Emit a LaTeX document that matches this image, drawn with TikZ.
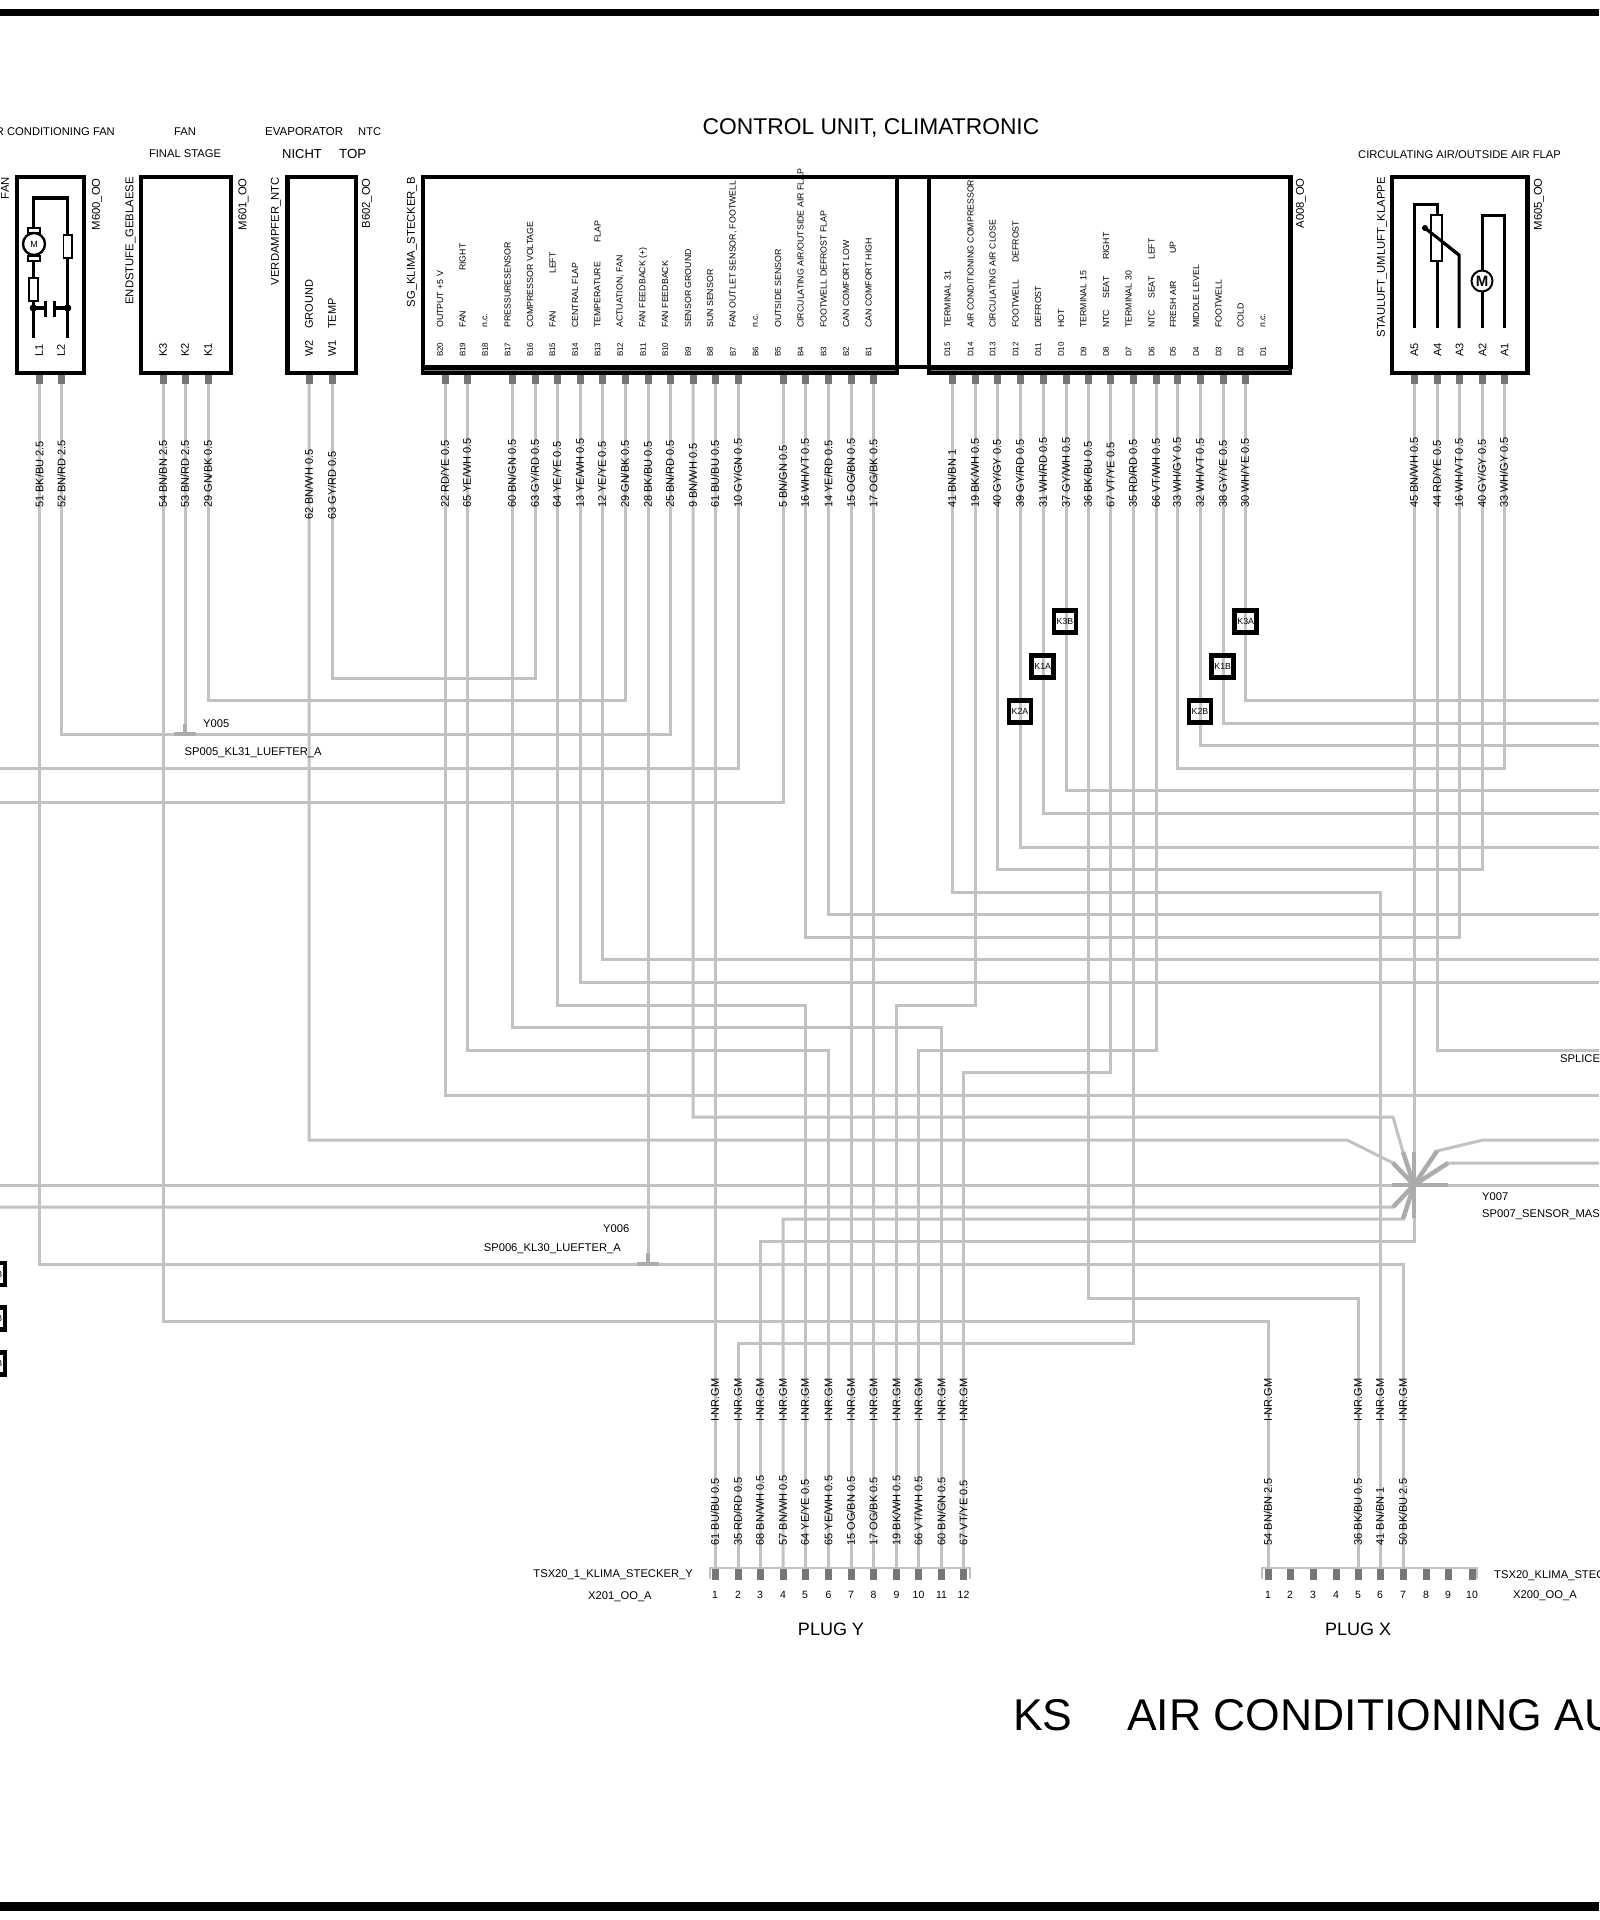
\documentclass[tikz,border=0pt]{standalone}
\usepackage{fontspec}
\setmainfont{Liberation Sans}
\usetikzlibrary{positioning}

\definecolor{wiregray}{RGB}{194,194,194}
\definecolor{stubgray}{RGB}{118,118,118}
\definecolor{spidergray}{RGB}{172,172,172}

\tikzset{
	wire/.style={draw=wiregray, line width=3pt},
	spider/.style={draw=spidergray, line width=4.5pt},
	pin/.style={fill=stubgray, minimum width=7pt, minimum height=11pt, inner sep=0pt, outer sep=0pt},
	unitbox/.style={draw=black, line width=4.2pt},
	relay/.style={draw=black, line width=4.5pt, minimum size=22pt, inner sep=0pt, font=\fontsize{8.8}{9}\selectfont},
	wirelabel/.style={rotate=90, anchor=west, inner sep=0pt, font=\fontsize{11}{11}\selectfont},
	desc/.style={rotate=90, anchor=west, inner sep=0pt, font=\fontsize{8.8}{9}\selectfont},
	pinname/.style={rotate=90, anchor=west, inner sep=0pt, font=\fontsize{8}{8}\selectfont},
	bigpin/.style={rotate=90, anchor=west, inner sep=0pt, font=\fontsize{11}{11}\selectfont},
	boxname/.style={rotate=90, anchor=east, inner sep=0pt, font=\fontsize{11.3}{11}\selectfont},
	header/.style={inner sep=0pt, font=\fontsize{11.2}{11}\selectfont},
	plugnum/.style={inner sep=0pt, font=\fontsize{10.5}{11}\selectfont},
	plugname/.style={inner sep=0pt, font=\fontsize{18}{18}\selectfont},
	bigtitle/.style={inner sep=0pt, font=\fontsize{44.5}{45}\selectfont}
}

\begin{document}
\begin{tikzpicture}[x=1pt, y=-1pt]
	\useasboundingbox (0,0) rectangle (1599,1920);

	% Draw the page bars
	\fill[black] (0,9) rectangle (1599,16);
	\fill[black] (0,1902) rectangle (1599,1911);

	% Draw the pins of the components
	\node[pin] (L1) at (39.5,378.5) {};
	\node[pin] (L2) at (61.5,378.5) {};
	\node[pin] (K3) at (163,378.5) {};
	\node[pin] (K2) at (185,378.5) {};
	\node[pin] (K1) at (208,378.5) {};
	\node[pin] (W2) at (309,378.5) {};
	\node[pin] (W1) at (332,378.5) {};

	\node[pin] (B20) at (445,378.5) {};
	\node[pin] (B19) at (467,378.5) {};
	\node[pin] (B17) at (512,378.5) {};
	\node[pin] (B16) at (535,378.5) {};
	\node[pin] (B15) at (557,378.5) {};
	\node[pin] (B14) at (580,378.5) {};
	\node[pin] (B13) at (602,378.5) {};
	\node[pin] (B12) at (625,378.5) {};
	\node[pin] (B11) at (648,378.5) {};
	\node[pin] (B10) at (670,378.5) {};
	\node[pin] (B9) at (693,378.5) {};
	\node[pin] (B8) at (715,378.5) {};
	\node[pin] (B7) at (738,378.5) {};
	\node[pin] (B5) at (783,378.5) {};
	\node[pin] (B4) at (805,378.5) {};
	\node[pin] (B3) at (828.5,378.5) {};
	\node[pin] (B2) at (851,378.5) {};
	\node[pin] (B1) at (873.5,378.5) {};

	\node[pin] (D15) at (952,378.5) {};
	\node[pin] (D14) at (975,378.5) {};
	\node[pin] (D13) at (997,378.5) {};
	\node[pin] (D12) at (1020,378.5) {};
	\node[pin] (D11) at (1043,378.5) {};
	\node[pin] (D10) at (1066,378.5) {};
	\node[pin] (D9) at (1088,378.5) {};
	\node[pin] (D8) at (1110.5,378.5) {};
	\node[pin] (D7) at (1133,378.5) {};
	\node[pin] (D6) at (1156,378.5) {};
	\node[pin] (D5) at (1177,378.5) {};
	\node[pin] (D4) at (1200,378.5) {};
	\node[pin] (D3) at (1223,378.5) {};
	\node[pin] (D2) at (1245,378.5) {};

	\node[pin] (A5) at (1414,378.5) {};
	\node[pin] (A4) at (1437,378.5) {};
	\node[pin] (A3) at (1459,378.5) {};
	\node[pin] (A2) at (1482,378.5) {};
	\node[pin] (A1) at (1504,378.5) {};

	% Draw the plugs
	\draw[wiregray, line width=1.5pt] (710,1579) -- (710,1568) -- (970,1568) -- (970,1579);
	\draw[wiregray, line width=1.5pt] (1262,1579) -- (1262,1568) -- (1477,1568) -- (1477,1579);

	\node[pin] (Y1) at (715,1574) {};
	\node[pin] (Y2) at (738,1574) {};
	\node[pin] (Y3) at (760,1574) {};
	\node[pin] (Y4) at (783,1574) {};
	\node[pin] (Y5) at (805,1574) {};
	\node[pin] (Y6) at (828.5,1574) {};
	\node[pin] (Y7) at (851,1574) {};
	\node[pin] (Y8) at (873.5,1574) {};
	\node[pin] (Y9) at (896.5,1574) {};
	\node[pin] (Y10) at (918.5,1574) {};
	\node[pin] (Y11) at (941.5,1574) {};
	\node[pin] (Y12) at (963.5,1574) {};

	\node[pin] (X1) at (1268,1574) {};
	\node[pin] (X2) at (1290,1574) {};
	\node[pin] (X3) at (1313,1574) {};
	\node[pin] (X4) at (1336,1574) {};
	\node[pin] (X5) at (1358,1574) {};
	\node[pin] (X6) at (1380,1574) {};
	\node[pin] (X7) at (1403,1574) {};
	\node[pin] (X8) at (1426,1574) {};
	\node[pin] (X9) at (1448,1574) {};
	\node[pin] (X10) at (1472,1574) {};

	% Free ends and splices
	\coordinate (Y005) at (185,734);
	\coordinate (Y006) at (648,1264);
	\coordinate (Y007) at (1414,1185);

	\coordinate (eB20) at (1599,1095);
	\coordinate (eB14) at (1599,982);
	\coordinate (eB13) at (1599,959);
	\coordinate (eB3) at (1599,914);
	\coordinate (eD12) at (1599,847);
	\coordinate (eD11) at (1599,813);
	\coordinate (eD10) at (1599,790);
	\coordinate (eD4) at (1599,745);
	\coordinate (eD3) at (1599,723);
	\coordinate (eD2) at (1599,700);
	\coordinate (eA4) at (1599,1050);
	\coordinate (wB7) at (0,768);
	\coordinate (wB5) at (0,802);

	\coordinate (w1185) at (0,1185);
	\coordinate (e1185) at (1599,1185);
	\coordinate (w1207) at (0,1207);
	\coordinate (k1207) at (1393,1207);
	\coordinate (k1219) at (1403,1219);
	\coordinate (k1117) at (1393,1117);
	\coordinate (j1117) at (1403,1152);
	\coordinate (k1140) at (1347,1140);
	\coordinate (j1140) at (1393,1163);
	\coordinate (e1140) at (1599,1140);
	\coordinate (k1140r) at (1483,1140);
	\coordinate (j1140r) at (1437,1151);
	\coordinate (e1163) at (1599,1163);
	\coordinate (j1163r) at (1448,1163);

	% Draw the wires
	\draw[wire] (L1) |- (X7 |- 0,1264) -- (X7);
	\draw[wire] (L2) |- (B10 |- 0,734) -- (B10);
	\draw[wire] (K3) |- (X1 |- 0,1321) -- (X1);
	\draw[wire] (K2) -- (Y005);
	\draw[wire] (K1) |- (B12 |- 0,700) -- (B12);
	\draw[wire] (W2) |- (k1140) -- (j1140) -- (Y007);
	\draw[wire] (W1) |- (B16 |- 0,678) -- (B16);

	\draw[wire] (B20) |- (eB20);
	\draw[wire] (B19) |- (Y6 |- 0,1050) -- (Y6);
	\draw[wire] (B17) |- (Y11 |- 0,1027) -- (Y11);
	\draw[wire] (B15) |- (Y5 |- 0,1005) -- (Y5);
	\draw[wire] (B14) |- (eB14);
	\draw[wire] (B13) |- (eB13);
	\draw[wire] (B11) -- (Y006);
	\draw[wire] (B9) |- (k1117) -- (j1117) -- (Y007);
	\draw[wire] (B8) -- (Y1);
	\draw[wire] (B7) |- (wB7);
	\draw[wire] (B5) |- (wB5);
	\draw[wire] (B4) |- (A3 |- 0,937) -- (A3);
	\draw[wire] (B3) |- (eB3);
	\draw[wire] (B2) -- (Y7);
	\draw[wire] (B1) -- (Y8);

	\draw[wire] (D15) |- (X6 |- 0,892) -- (X6);
	\draw[wire] (D14) |- (Y9 |- 0,1005) -- (Y9);
	\draw[wire] (D13) |- (A2 |- 0,869) -- (A2);
	\draw[wire] (D12) |- (eD12);
	\draw[wire] (D11) |- (eD11);
	\draw[wire] (D10) |- (eD10);
	\draw[wire] (D9) |- (X5 |- 0,1298) -- (X5);
	\draw[wire] (D8) |- (Y12 |- 0,1072) -- (Y12);
	\draw[wire] (D7) |- (Y2 |- 0,1343) -- (Y2);
	\draw[wire] (D6) |- (Y10 |- 0,1050) -- (Y10);
	\draw[wire] (D5) |- (A1 |- 0,768) -- (A1);
	\draw[wire] (D4) |- (eD4);
	\draw[wire] (D3) |- (eD3);
	\draw[wire] (D2) |- (eD2);

	\draw[wire] (A5) |- (Y3 |- 0,1241) -- (Y3);
	\draw[wire] (A4) |- (eA4);
	\draw[wire] (Y4) |- (k1219) -- (Y007);

	\draw[wire] (w1185) -- (e1185);
	\draw[wire] (w1207) -- (k1207) -- (Y007);
	\draw[wire] (e1140) -- (k1140r) -- (j1140r) -- (Y007);
	\draw[wire] (e1163) -- (j1163r) -- (Y007);

	% Draw the splices
	\draw[spider] (Y005) ++(-11,0) -- ++(22,0);
	\draw[spider] (Y005) -- ++(0,-10);
	\draw[spider] (Y006) ++(-11,0) -- ++(22,0);
	\draw[spider] (Y006) -- ++(0,-11);

	\draw[spider] (Y007) -- (j1117);
	\draw[spider] (Y007) -- (j1140);
	\draw[spider] (Y007) -- (k1207);
	\draw[spider] (Y007) -- (k1219);
	\draw[spider] (Y007) -- (j1140r);
	\draw[spider] (Y007) -- (j1163r);
	\draw[spider] (Y007) ++(-22,0) -- ++(56,0);
	\draw[spider] (Y007) ++(0,-33) -- ++(0,66);

	% Draw the component boxes
	\draw[unitbox] (16.7,176.7) rectangle (84.2,373.3);
	\draw[unitbox] (140.7,176.7) rectangle (230.6,373.3);
	\draw[unitbox] (287.4,176.7) rectangle (355.6,373.3);
	\draw[unitbox] (1392,176.7) rectangle (1527.5,373.3);

	% Draw the control unit
	\draw[unitbox] (422.7,176.7) rectangle (896.7,367);
	\draw[unitbox] (929,176.7) rectangle (1290.4,367);
	\fill[black] (420.7,366) rectangle (898.7,375);
	\fill[black] (927.2,366) rectangle (1292.2,375);
	\draw[stubgray, line width=1pt] (424,370.5) -- (895,370.5);
	\draw[stubgray, line width=1pt] (931,370.5) -- (1289,370.5);
	\draw[unitbox] (896.7,176.7) -- (929,176.7);
	\draw[unitbox] (896.7,367) -- (929,367);

	% Draw the fan inside the box
	\draw[black, line width=3.5pt] (33.3,338) -- (33.3,198) -- (67.7,198) -- (67.7,338);
	\draw[black, line width=3.5pt] (33.3,308) -- (45.7,308);
	\draw[black, line width=3.5pt] (54.3,308) -- (67.7,308);
	\draw[black, line width=2.8pt] (45.7,300.7) -- (45.7,317);
	\draw[black, line width=2.8pt] (54.3,300.7) -- (54.3,317);
	\fill[black] (33.3,308) circle (3.6);
	\fill[black] (67.7,308) circle (3.6);
	\draw[black, line width=1.8pt, fill=white] (28,228) rectangle (40,233);
	\draw[black, line width=1.8pt, fill=white] (28,256) rectangle (40,261);
	\node[draw=black, circle, line width=2.4pt, fill=white, minimum size=22pt, inner sep=0pt, font=\fontsize{9}{9}\selectfont] (motorfan) at (34,244) {M};
	\draw[black, line width=1.6pt, fill=white] (63.3,235) rectangle (72,258);
	\draw[black, line width=1.6pt, fill=white] (29,278) rectangle (37.7,300.7);

	% Draw the flap inside the box
	\draw[black, line width=3pt] (1414,328) -- (1414,204) -- (1437,204) -- (1437,328);
	\draw[black, line width=3pt] (1459,328) -- (1459,255) -- (1425,228);
	\draw[black, line width=3pt] (1482,328) -- (1482,215) -- (1504,215) -- (1504,328);
	\draw[black, line width=1.6pt, fill=white] (1431,215) rectangle (1442,261);
	\draw[black, line width=3pt] (1459,255) -- (1425,228);
	\fill[black] (1425,228) circle (3);
	\node[draw=black, circle, line width=2pt, fill=white, minimum size=21pt, inner sep=0pt, font=\bfseries\fontsize{15}{15}\selectfont] (motorflap) at (1482,281) {M};

	% Draw the relays
	\node[relay] (K3B) at (1065,621.7) {K3B};
	\node[relay] (K1A) at (1042.7,666.7) {K1A};
	\node[relay] (K2A) at (1020,711.7) {K2A};
	\node[relay] (K3A) at (1245.7,621.7) {K3A};
	\node[relay] (K1B) at (1222.7,666.7) {K1B};
	\node[relay] (K2B) at (1200,711.7) {K2B};
	\node[relay] (edge1) at (-6,1274) {\phantom{K3}B};
	\node[relay] (edge2) at (-6,1318.5) {\phantom{K1}B};
	\node[relay] (edge3) at (-6,1363.5) {\phantom{K2}B};

	% Titles
	\node[anchor=east, header] (tfan) at (115,132) {R CONDITIONING FAN};
	\node[header] (tfinal) at (185,132) {FAN};
	\node[header] (tfinalb) at (185,154) {FINAL STAGE};
	\node[anchor=west, inner sep=0pt, font=\fontsize{11.5}{12}\selectfont] (tevap) at (265,132) {EVAPORATOR};
	\node[anchor=west, header] (tntc) at (358,132) {NTC};
	\node[anchor=west, inner sep=0pt, font=\fontsize{13}{13}\selectfont] (tnicht) at (282,154) {NICHT};
	\node[anchor=west, inner sep=0pt, font=\fontsize{13.3}{13}\selectfont] (ttop) at (339,154) {TOP};
	\node[inner sep=0pt, font=\fontsize{22.8}{23}\selectfont] (tunit) at (871,128) {CONTROL UNIT, CLIMATRONIC};
	\node[header] (tflap) at (1459.5,154) {CIRCULATING AIR/OUTSIDE AIR FLAP};

	% Names of the boxes
	\node[boxname] (nfan) at (5,177) {FAN};
	\node[boxname] (nm600) at (97,178) {M600\_OO};
	\node[boxname] (nend) at (130.5,177) {ENDSTUFE\_GEBLAESE};
	\node[boxname] (nm601) at (243.5,178) {M601\_OO};
	\node[boxname] (nverd) at (276,177) {VERDAMPFER\_NTC};
	\node[boxname] (nb602) at (367,178) {B602\_OO};
	\node[boxname] (nsg) at (412,177) {SG\_KLIMA\_STECKER\_B};
	\node[boxname] (na008) at (1301,178) {A008\_OO};
	\node[boxname] (nstau) at (1382,177) {STAULUFT\_UMLUFT\_KLAPPE};
	\node[boxname] (nm605) at (1539,178) {M605\_OO};

	% Names of the pins
	\node[bigpin] (nL1) at (39,357) {L1};
	\node[bigpin] (nL2) at (61,357) {L2};
	\node[bigpin] (nK3) at (163,357) {K3};
	\node[bigpin] (nK2) at (185,357) {K2};
	\node[bigpin] (nK1) at (208,357) {K1};
	\node[bigpin] (nW2) at (309,357) {W2};
	\node[bigpin] (nW1) at (332,357) {W1};
	\node[bigpin] (dW2) at (309,329) {GROUND};
	\node[bigpin] (dW1) at (332,329) {TEMP};
	\node[bigpin] (nA5) at (1414.5,357) {A5};
	\node[bigpin] (nA4) at (1437.5,357) {A4};
	\node[bigpin] (nA3) at (1459.5,357) {A3};
	\node[bigpin] (nA2) at (1482.5,357) {A2};
	\node[bigpin] (nA1) at (1504.5,357) {A1};

	% Left half of the control unit
	\node[pinname] (nB20) at (440,357) {B20};
	\node[pinname] (nB19) at (462.5,357) {B19};
	\node[pinname] (nB18) at (485,357) {B18};
	\node[pinname] (nB17) at (507.5,357) {B17};
	\node[pinname] (nB16) at (530,357) {B16};
	\node[pinname] (nB15) at (552.5,357) {B15};
	\node[pinname] (nB14) at (575,357) {B14};
	\node[pinname] (nB13) at (597.5,357) {B13};
	\node[pinname] (nB12) at (620,357) {B12};
	\node[pinname] (nB11) at (643,357) {B11};
	\node[pinname] (nB10) at (665,357) {B10};
	\node[pinname] (nB9) at (688,357) {B9};
	\node[pinname] (nB8) at (710,357) {B8};
	\node[pinname] (nB7) at (733,357) {B7};
	\node[pinname] (nB6) at (755.5,357) {B6};
	\node[pinname] (nB5) at (778,357) {B5};
	\node[pinname] (nB4) at (800.5,357) {B4};
	\node[pinname] (nB3) at (823.5,357) {B3};
	\node[pinname] (nB2) at (846,357) {B2};
	\node[pinname] (nB1) at (868.5,357) {B1};

	\node[desc] (dB20) at (440,328) {OUTPUT +5 V};
	\node[desc] (dB19) at (462.5,328) {FAN};
	\node[desc] (dB19b) at (462.5,271) {RIGHT};
	\node[desc] (dB18) at (485,328) {n.c.};
	\node[desc] (dB17) at (507.5,328) {PRESSURESENSOR};
	\node[desc] (dB16) at (530,328) {COMPRESSOR VOLTAGE};
	\node[desc] (dB15) at (552.5,328) {FAN};
	\node[desc] (dB15b) at (552.5,274) {LEFT};
	\node[desc] (dB14) at (575,328) {CENTRAL FLAP};
	\node[desc] (dB13) at (597.5,328) {TEMPERATURE};
	\node[desc] (dB13b) at (597.5,243) {FLAP};
	\node[desc] (dB12) at (620,328) {ACTUATION, FAN};
	\node[desc] (dB11) at (643,328) {FAN FEEDBACK (+)};
	\node[desc] (dB10) at (665,328) {FAN FEEDBACK};
	\node[desc] (dB9) at (688,328) {SENSOR GROUND};
	\node[desc] (dB8) at (710,328) {SUN SENSOR};
	\node[desc] (dB7) at (733,328) {FAN OUTLET SENSOR, FOOTWELL};
	\node[desc] (dB6) at (755.5,328) {n.c.};
	\node[desc] (dB5) at (778,328) {OUTSIDE SENSOR};
	\node[desc] (dB4) at (800.5,328) {CIRCULATING AIR/OUTSIDE AIR FLAP};
	\node[desc] (dB3) at (823.5,328) {FOOTWELL DEFROST FLAP};
	\node[desc] (dB2) at (846,328) {CAN COMFORT LOW};
	\node[desc] (dB1) at (868.5,328) {CAN COMFORT HIGH};

	% Right half of the control unit
	\node[pinname] (nD15) at (947.5,357) {D15};
	\node[pinname] (nD14) at (970.5,357) {D14};
	\node[pinname] (nD13) at (992.5,357) {D13};
	\node[pinname] (nD12) at (1015.5,357) {D12};
	\node[pinname] (nD11) at (1038,357) {D11};
	\node[pinname] (nD10) at (1061,357) {D10};
	\node[pinname] (nD9) at (1083.5,357) {D9};
	\node[pinname] (nD8) at (1106,357) {D8};
	\node[pinname] (nD7) at (1128.5,357) {D7};
	\node[pinname] (nD6) at (1151.5,357) {D6};
	\node[pinname] (nD5) at (1173,357) {D5};
	\node[pinname] (nD4) at (1196,357) {D4};
	\node[pinname] (nD3) at (1218.5,357) {D3};
	\node[pinname] (nD2) at (1240.5,357) {D2};
	\node[pinname] (nD1) at (1263,357) {D1};

	\node[desc] (dD15) at (947.5,328) {TERMINAL 31};
	\node[desc] (dD14) at (970.5,328) {AIR CONDITIONING COMPRESSOR};
	\node[desc] (dD13) at (992.5,328) {CIRCULATING AIR CLOSE};
	\node[desc] (dD12) at (1015.5,328) {FOOTWELL};
	\node[desc] (dD12b) at (1015.5,263) {DEFROST};
	\node[desc] (dD11) at (1038,328) {DEFROST};
	\node[desc] (dD10) at (1061,328) {HOT};
	\node[desc] (dD9) at (1083.5,328) {TERMINAL 15};
	\node[desc] (dD8) at (1106,328) {NTC};
	\node[desc] (dD8b) at (1106,299) {SEAT};
	\node[desc] (dD8c) at (1106,260) {RIGHT};
	\node[desc] (dD7) at (1128.5,328) {TERMINAL 30};
	\node[desc] (dD6) at (1151.5,328) {NTC};
	\node[desc] (dD6b) at (1151.5,299) {SEAT};
	\node[desc] (dD6c) at (1151.5,260) {LEFT};
	\node[desc] (dD5) at (1173,328) {FRESH AIR};
	\node[desc] (dD5b) at (1173,254) {UP};
	\node[desc] (dD4) at (1196,328) {MIDDLE LEVEL};
	\node[desc] (dD3) at (1218.5,328) {FOOTWELL};
	\node[desc] (dD2) at (1240.5,328) {COLD};
	\node[desc] (dD1) at (1263,328) {n.c.};

	% Wire labels at the top
	\node[wirelabel] (lL1) at (L1 |- 0,508) {51 BK/BU 2.5};
	\node[wirelabel] (lL2) at (L2 |- 0,508) {52 BN/RD 2.5};
	\node[wirelabel] (lK3) at (K3 |- 0,508) {54 BN/BN 2.5};
	\node[wirelabel] (lK2) at (K2 |- 0,508) {53 BN/RD 2.5};
	\node[wirelabel] (lK1) at (K1 |- 0,508) {29 GN/BK 0.5};
	\node[wirelabel] (lW2) at (W2 |- 0,520) {62 BN/WH 0.5};
	\node[wirelabel] (lW1) at (W1 |- 0,520) {63 GY/RD 0.5};

	\node[wirelabel] (lB20) at (B20 |- 0,508) {22 RD/YE 0.5};
	\node[wirelabel] (lB19) at (B19 |- 0,508) {65 YE/WH 0.5};
	\node[wirelabel] (lB17) at (B17 |- 0,508) {60 BN/GN 0.5};
	\node[wirelabel] (lB16) at (B16 |- 0,508) {63 GY/RD 0.5};
	\node[wirelabel] (lB15) at (B15 |- 0,508) {64 YE/YE 0.5};
	\node[wirelabel] (lB14) at (B14 |- 0,508) {13 YE/WH 0.5};
	\node[wirelabel] (lB13) at (B13 |- 0,508) {12 YE/YE 0.5};
	\node[wirelabel] (lB12) at (B12 |- 0,508) {29 GN/BK 0.5};
	\node[wirelabel] (lB11) at (B11 |- 0,508) {28 BK/BU 0.5};
	\node[wirelabel] (lB10) at (B10 |- 0,508) {25 BN/RD 0.5};
	\node[wirelabel] (lB9) at (B9 |- 0,508) {9 BN/WH 0.5};
	\node[wirelabel] (lB8) at (B8 |- 0,508) {61 BU/BU 0.5};
	\node[wirelabel] (lB7) at (B7 |- 0,508) {10 GY/GN 0.5};
	\node[wirelabel] (lB5) at (B5 |- 0,508) {5 BN/GN 0.5};
	\node[wirelabel] (lB4) at (B4 |- 0,508) {16 WH/VT 0.5};
	\node[wirelabel] (lB3) at (B3 |- 0,508) {14 YE/RD 0.5};
	\node[wirelabel] (lB2) at (B2 |- 0,508) {15 OG/BN 0.5};
	\node[wirelabel] (lB1) at (B1 |- 0,508) {17 OG/BK 0.5};

	\node[wirelabel] (lD15) at (D15 |- 0,508) {41 BN/BN 1};
	\node[wirelabel] (lD14) at (D14 |- 0,508) {19 BK/WH 0.5};
	\node[wirelabel] (lD13) at (D13 |- 0,508) {40 GY/GY 0.5};
	\node[wirelabel] (lD12) at (D12 |- 0,508) {39 GY/RD 0.5};
	\node[wirelabel] (lD11) at (D11 |- 0,508) {31 WH/RD 0.5};
	\node[wirelabel] (lD10) at (D10 |- 0,508) {37 GY/WH 0.5};
	\node[wirelabel] (lD9) at (D9 |- 0,508) {36 BK/BU 0.5};
	\node[wirelabel] (lD8) at (D8 |- 0,508) {67 VT/YE 0.5};
	\node[wirelabel] (lD7) at (D7 |- 0,508) {35 RD/RD 0.5};
	\node[wirelabel] (lD6) at (D6 |- 0,508) {66 VT/WH 0.5};
	\node[wirelabel] (lD5) at (D5 |- 0,508) {33 WH/GY 0.5};
	\node[wirelabel] (lD4) at (D4 |- 0,508) {32 WH/VT 0.5};
	\node[wirelabel] (lD3) at (D3 |- 0,508) {38 GY/YE 0.5};
	\node[wirelabel] (lD2) at (D2 |- 0,508) {30 WH/YE 0.5};

	\node[wirelabel] (lA5) at (A5 |- 0,508) {45 BN/WH 0.5};
	\node[wirelabel] (lA4) at (A4 |- 0,508) {44 RD/YE 0.5};
	\node[wirelabel] (lA3) at (A3 |- 0,508) {16 WH/VT 0.5};
	\node[wirelabel] (lA2) at (A2 |- 0,508) {40 GY/GY 0.5};
	\node[wirelabel] (lA1) at (A1 |- 0,508) {33 WH/GY 0.5};

	% Wire labels at plug Y
	\node[wirelabel] (lY1) at (Y1 |- 0,1545.7) {61 BU/BU 0.5};
	\node[wirelabel] (lY2) at (Y2 |- 0,1545.7) {35 RD/RD 0.5};
	\node[wirelabel] (lY3) at (Y3 |- 0,1545.7) {68 BN/WH 0.5};
	\node[wirelabel] (lY4) at (Y4 |- 0,1545.7) {57 BN/WH 0.5};
	\node[wirelabel] (lY5) at (Y5 |- 0,1545.7) {64 YE/YE 0.5};
	\node[wirelabel] (lY6) at (Y6 |- 0,1545.7) {65 YE/WH 0.5};
	\node[wirelabel] (lY7) at (Y7 |- 0,1545.7) {15 OG/BN 0.5};
	\node[wirelabel] (lY8) at (Y8 |- 0,1545.7) {17 OG/BK 0.5};
	\node[wirelabel] (lY9) at (Y9 |- 0,1545.7) {19 BK/WH 0.5};
	\node[wirelabel] (lY10) at (Y10 |- 0,1545.7) {66 VT/WH 0.5};
	\node[wirelabel] (lY11) at (Y11 |- 0,1545.7) {60 BN/GN 0.5};
	\node[wirelabel] (lY12) at (Y12 |- 0,1545.7) {67 VT/YE 0.5};

	\node[wirelabel] (gY1) at (Y1 |- 0,1422) {I-NR.GM};
	\node[wirelabel] (gY2) at (Y2 |- 0,1422) {I-NR.GM};
	\node[wirelabel] (gY3) at (Y3 |- 0,1422) {I-NR.GM};
	\node[wirelabel] (gY4) at (Y4 |- 0,1422) {I-NR.GM};
	\node[wirelabel] (gY5) at (Y5 |- 0,1422) {I-NR.GM};
	\node[wirelabel] (gY6) at (Y6 |- 0,1422) {I-NR.GM};
	\node[wirelabel] (gY7) at (Y7 |- 0,1422) {I-NR.GM};
	\node[wirelabel] (gY8) at (Y8 |- 0,1422) {I-NR.GM};
	\node[wirelabel] (gY9) at (Y9 |- 0,1422) {I-NR.GM};
	\node[wirelabel] (gY10) at (Y10 |- 0,1422) {I-NR.GM};
	\node[wirelabel] (gY11) at (Y11 |- 0,1422) {I-NR.GM};
	\node[wirelabel] (gY12) at (Y12 |- 0,1422) {I-NR.GM};

	% Wire labels at plug X
	\node[wirelabel] (lX1) at (X1 |- 0,1545.7) {54 BN/BN 2.5};
	\node[wirelabel] (lX5) at (X5 |- 0,1545.7) {36 BK/BU 0.5};
	\node[wirelabel] (lX6) at (X6 |- 0,1545.7) {41 BN/BN 1};
	\node[wirelabel] (lX7) at (X7 |- 0,1545.7) {50 BK/BU 2.5};
	\node[wirelabel] (gX1) at (X1 |- 0,1422) {I-NR.GM};
	\node[wirelabel] (gX5) at (X5 |- 0,1422) {I-NR.GM};
	\node[wirelabel] (gX6) at (X6 |- 0,1422) {I-NR.GM};
	\node[wirelabel] (gX7) at (X7 |- 0,1422) {I-NR.GM};

	% Numbers of the plugs
	\node[plugnum] (cY1) at (Y1 |- 0,1595) {1};
	\node[plugnum] (cY2) at (Y2 |- 0,1595) {2};
	\node[plugnum] (cY3) at (Y3 |- 0,1595) {3};
	\node[plugnum] (cY4) at (Y4 |- 0,1595) {4};
	\node[plugnum] (cY5) at (Y5 |- 0,1595) {5};
	\node[plugnum] (cY6) at (Y6 |- 0,1595) {6};
	\node[plugnum] (cY7) at (Y7 |- 0,1595) {7};
	\node[plugnum] (cY8) at (Y8 |- 0,1595) {8};
	\node[plugnum] (cY9) at (Y9 |- 0,1595) {9};
	\node[plugnum] (cY10) at (Y10 |- 0,1595) {10};
	\node[plugnum] (cY11) at (Y11 |- 0,1595) {11};
	\node[plugnum] (cY12) at (Y12 |- 0,1595) {12};

	\node[plugnum] (cX1) at (X1 |- 0,1595) {1};
	\node[plugnum] (cX2) at (X2 |- 0,1595) {2};
	\node[plugnum] (cX3) at (X3 |- 0,1595) {3};
	\node[plugnum] (cX4) at (X4 |- 0,1595) {4};
	\node[plugnum] (cX5) at (X5 |- 0,1595) {5};
	\node[plugnum] (cX6) at (X6 |- 0,1595) {6};
	\node[plugnum] (cX7) at (X7 |- 0,1595) {7};
	\node[plugnum] (cX8) at (X8 |- 0,1595) {8};
	\node[plugnum] (cX9) at (X9 |- 0,1595) {9};
	\node[plugnum] (cX10) at (X10 |- 0,1595) {10};

	% Names of plugs and splices
	\node[anchor=east, header] (tsy) at (693,1575) {TSX20\_1\_KLIMA\_STECKER\_Y};
	\node[anchor=west, header] (xy) at (588,1596.5) {X201\_OO\_A};
	\node[anchor=west, header] (tsx) at (1494,1576) {TSX20\_KLIMA\_STEC};
	\node[anchor=west, header] (xx) at (1513,1595.5) {X200\_OO\_A};
	\node[plugname] (pY) at (831,1629) {PLUG Y};
	\node[plugname] (pX) at (1358,1629) {PLUG X};

	\node[anchor=west, header] (sY5) at (203,724) {Y005};
	\node[anchor=west, header] (sY5b) at (184.5,753) {SP005\_KL31\_LUEFTER\_A};
	\node[anchor=west, header] (sY6) at (603,1229) {Y006};
	\node[anchor=east, header] (sY6b) at (621,1249) {SP006\_KL30\_LUEFTER\_A};
	\node[anchor=west, header] (sY7) at (1482,1197) {Y007};
	\node[anchor=west, header] (sY7b) at (1482,1215) {SP007\_SENSOR\_MAS};
	\node[anchor=west, header] (sSp) at (1560,1059) {SPLICE};

	% Title of the page
	\node[anchor=west, bigtitle] (tKS) at (1013,1715) {KS};
	\node[anchor=west, bigtitle] (tAC) at (1127,1715) {AIR CONDITIONING AU};

\end{tikzpicture}
\end{document}
